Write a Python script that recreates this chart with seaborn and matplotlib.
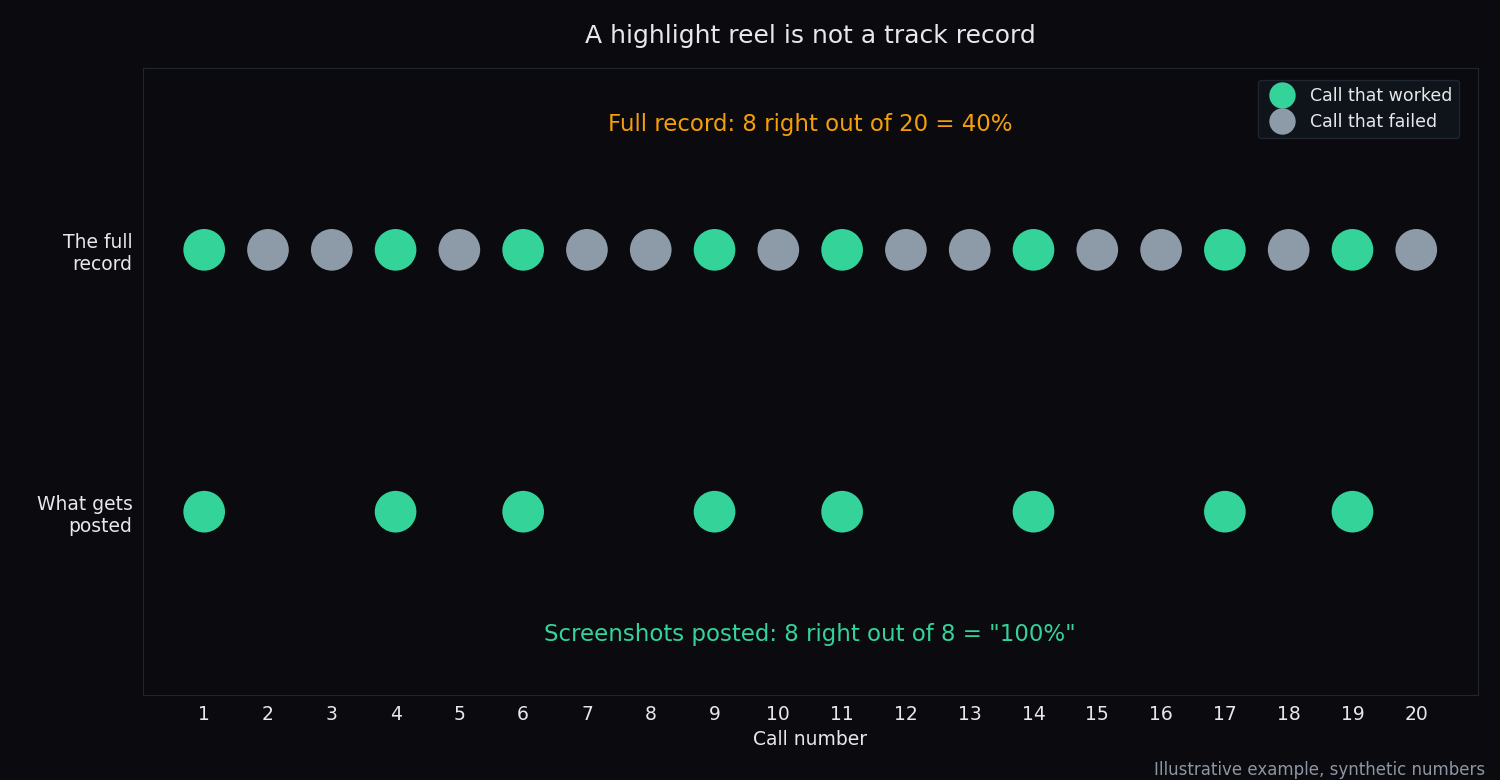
import numpy as np
import pandas as pd
import matplotlib
matplotlib.use("Agg")
import matplotlib.pyplot as plt
import seaborn as sns

calls = list(range(1, 21))
worked = [1, 4, 6, 9, 11, 14, 17, 19]
row_labels = ["The full\nrecord", "What gets\nposted"]

BG = "#0a0a0f"
GREEN = "#34d399"
GREY = "#8d9aa8"
ORANGE = "#f59e0b"
TEXT = "#e8e8ec"

sns.set_style("dark")
plt.rcParams["font.family"] = ["DejaVu Sans"]

full = pd.DataFrame({"call": calls, "row": 1,
                     "result": ["Call that worked" if c in worked else "Call that failed" for c in calls]})
posted = pd.DataFrame({"call": worked, "row": 0, "result": "Call that worked"})
df = pd.concat([full, posted], ignore_index=True)

fig = plt.figure(figsize=(15, 7.8), dpi=100, facecolor=BG)
ax = fig.add_axes([0.0953, 0.109, 0.8897, 0.804])
ax.set_facecolor(BG)
sns.scatterplot(data=df, x="call", y="row", hue="result",
                hue_order=["Call that worked", "Call that failed"],
                palette={"Call that worked": GREEN, "Call that failed": GREY},
                s=900, linewidth=0, ax=ax, zorder=3)

ax.set_xlim(0.04, 20.96)
ax.set_ylim(-0.7, 1.695)
ax.set_xticks(calls)
ax.set_yticks([1, 0])
ax.set_yticklabels(row_labels, ha="right")
ax.tick_params(colors=TEXT, labelsize=13.5, length=4)
for t in ax.get_xticklabels() + ax.get_yticklabels():
    t.set_color(TEXT)
ax.grid(False)
for sp in ax.spines.values():
    sp.set_visible(True)
    sp.set_color("#1f2630")
ax.set_xlabel("Call number", color=TEXT, fontsize=13.5)
ax.set_ylabel("")
ax.set_title("A highlight reel is not a track record", color=TEXT, fontsize=18, pad=18)

ax.text(0.5, 0.909, "Full record: 8 right out of 20 = 40%", transform=ax.transAxes,
        ha="center", va="center", color=ORANGE, fontsize=16.5)
ax.text(0.5, 0.097, 'Screenshots posted: 8 right out of 8 = "100%"', transform=ax.transAxes,
        ha="center", va="center", color=GREEN, fontsize=16.5)

handles, labels = ax.get_legend_handles_labels()
for h in handles:
    if hasattr(h, "set_markersize"):
        h.set_markersize(19)
    elif hasattr(h, "set_sizes"):
        h.set_sizes([600])
leg = ax.legend(handles, labels, loc="upper right", bbox_to_anchor=(0.993, 0.995), fontsize=12.5,
                facecolor="#0f141b", edgecolor="#1f2630", framealpha=1,
                handletextpad=0.6, borderpad=0.4, labelspacing=0.5)
for t in leg.get_texts():
    t.set_color(TEXT)

fig.text(0.99, 0.013, "Illustrative example, synthetic numbers", ha="right", va="center",
         color="#8d96a3", fontsize=12)

fig.savefig("out.png", facecolor=BG)
